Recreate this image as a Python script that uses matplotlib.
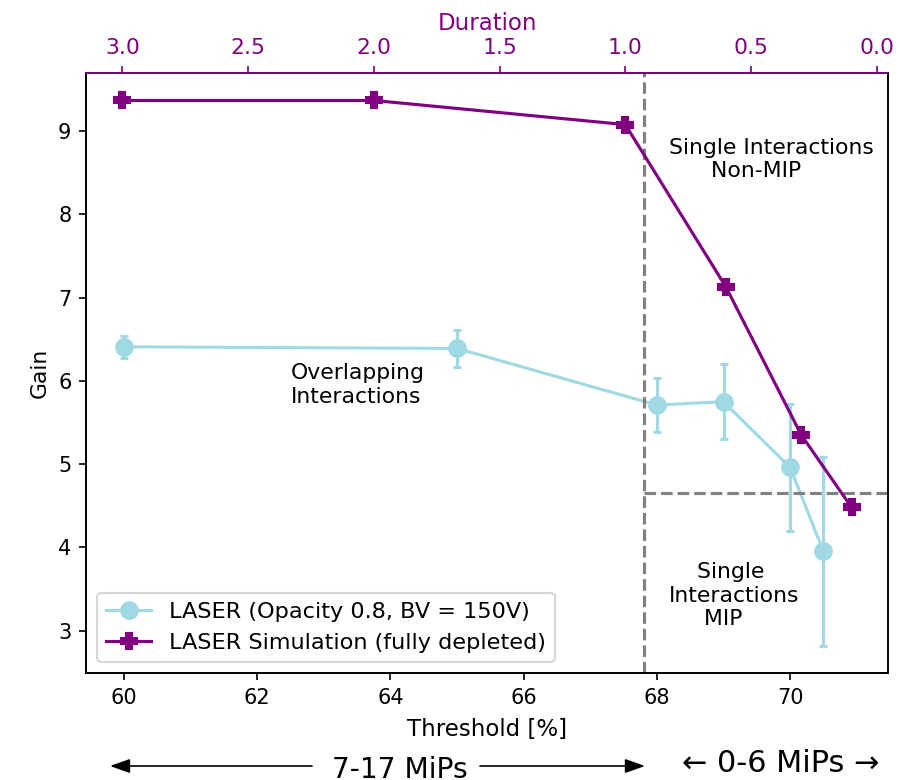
import matplotlib
matplotlib.use("Agg")
import matplotlib.pyplot as plt
from matplotlib.patches import FancyArrowPatch

# Measured LASER gain vs. threshold
laser_threshold = [60, 65, 68, 69, 70, 70.5]
laser_gain = [6.41, 6.39, 5.71, 5.75, 4.96, 3.95]
laser_err = [0.13, 0.22, 0.33, 0.45, 0.76, 1.13]

# Simulated gain vs. pulse duration
sim_duration = [3.0, 2.0, 1.0, 0.6, 0.3, 0.1]
sim_gain = [9.37, 9.37, 9.08, 7.13, 5.35, 4.48]

# Region boundaries
threshold_split = 67.8
gain_split = 4.65

cyan = "#a0d8e4"
purple = "purple"
ann = 10.5

fig = plt.figure(figsize=(6, 5.2), dpi=150)
ax = fig.add_axes([0.0956, 0.1372, 0.8911, 0.7692])

ax.errorbar(laser_threshold, laser_gain, yerr=laser_err, fmt="none",
            ecolor=cyan, elinewidth=1.5, capsize=2, capthick=1.5)
l1, = ax.plot(laser_threshold, laser_gain, "-o", color=cyan, lw=1.5,
              ms=8, label="LASER (Opacity 0.8, BV = 150V)")
ax.set_xlim(59.43, 71.47)

ax.axvline(threshold_split, color="gray", ls="--", lw=1.5)
ax.plot([threshold_split, 71.47], [gain_split, gain_split], color="gray",
        ls="--", lw=1.5)

ax.set_xlabel("Threshold [%]", fontsize=11, labelpad=5)
ax.set_ylabel("Gain", fontsize=10.5)
ax.set_xticks([60, 62, 64, 66, 68, 70])
ax.tick_params(axis="both", labelsize=10)

ax2 = ax.twiny()
l2, = ax2.plot(sim_duration, sim_gain, "-P", color=purple, lw=1.5, ms=8,
               label="LASER Simulation (fully depleted)")
ax2.invert_xaxis()
ax2.set_xlabel("Duration", color=purple, fontsize=11)
ax2.tick_params(axis="x", colors=purple, labelsize=10.5)
ax2.spines["top"].set_color(purple)

ax.set_ylim(2.49, 9.70)

ax2.legend(handles=[l1, l2], loc="lower left", fontsize=10.75)

ax.text(62.5, 5.95, "Overlapping\nInteractions", fontsize=ann, ha="left",
        va="center", linespacing=1.2)
ax.text(68.18, 8.66, "Single Interactions\n      Non-MIP", fontsize=ann,
        ha="left", va="center", linespacing=1.2)
ax.text(68.18, 3.42, "    Single\nInteractions\n     MIP", fontsize=ann,
        ha="left", va="center", linespacing=1.2)

# MiP range markers below the threshold axis
fig.text(400 / 900, 1 - 778 / 780, "7-17 MiPs", fontsize=13.5, ha="center",
         va="baseline")
fig.text(781 / 900, 1 - 772 / 780, "\u2190 0-6 MiPs \u2192", fontsize=14.5,
         ha="center", va="baseline")
arrow = dict(arrowstyle="-|>,head_length=0.45,head_width=0.16",
             color="black", lw=0.8, mutation_scale=18,
             transform=fig.transFigure)
y_arr = 1 - 766 / 780
fig.add_artist(FancyArrowPatch((312 / 900, y_arr), (110 / 900, y_arr),
                               shrinkA=0, shrinkB=0, **arrow))
fig.add_artist(FancyArrowPatch((480 / 900, y_arr), (645 / 900, y_arr),
                               shrinkA=0, shrinkB=0, **arrow))

fig.savefig("out.png", dpi=150)
